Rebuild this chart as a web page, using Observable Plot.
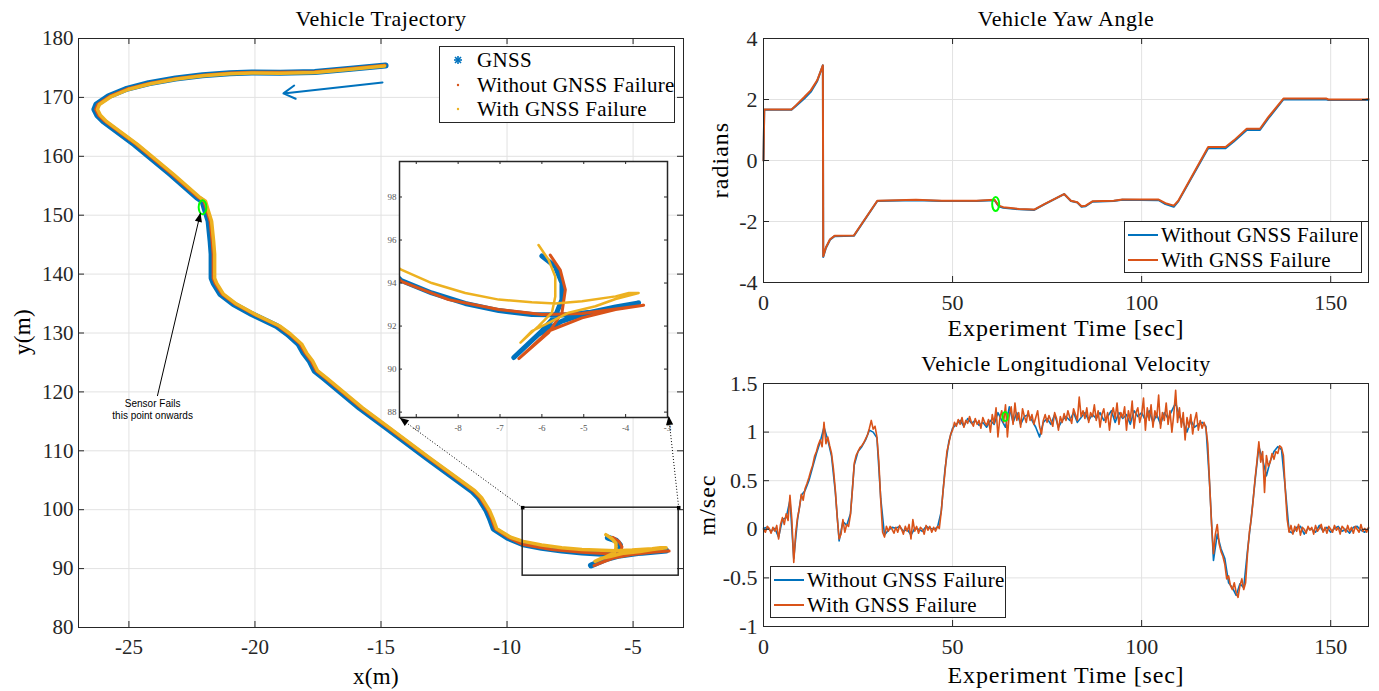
<!DOCTYPE html>
<html><head><meta charset="utf-8">
<script src="https://cdn.jsdelivr.net/npm/d3@7"></script>
<script src="https://cdn.jsdelivr.net/npm/@observablehq/plot@0.6"></script>
<style>
body{margin:0;background:#fff;}
#root{position:relative;width:1379px;height:691px;overflow:hidden;font-family:"Liberation Serif",serif;color:#000;background:#fff;}
#root svg text{font-family:"Liberation Serif",serif;}
#root svg g[aria-label="text"] text{font-family:"Liberation Sans",Arial,sans-serif;}
.abs{position:absolute;}
.t{position:absolute;white-space:nowrap;transform:translate(-50%,-50%);line-height:1;}
.lg{position:absolute;border:1px solid #262626;background:#fff;box-sizing:border-box;}
.lt{position:absolute;white-space:nowrap;line-height:1;transform:translateY(-50%);font-size:21px;letter-spacing:0.3px;}
</style></head><body><div id="root"></div><script>
// ---------------- DATA ----------------
// Trajectory (metres)
const gnssX = [-14.82,-16.2,-17.63,-19.0,-20.13,-21.0,-22.08,-23.15,-24.22,-25.13,-25.81,-26.29,-26.37,-26.25,-26.01,-24.78,-23.35,-22.3,-22.08,-22.0,-21.84,-21.76,-21.72,-21.72,-21.64,-21.37,-20.85,-20.13,-19.14,-18.71,-18.27,-18.07,-17.83,-17.63,-17.28,-15.85,-14.78,-13.19,-11.4,-11.13,-10.81,-10.69,-10.53,-9.98,-9.36,-8.63,-7.83,-7.03,-6.24,-5.44,-4.64,-3.69,-4.24,-4.88,-5.52,-6.08,-6.67,-6.0,-5.68,-5.52,-5.52,-5.68,-6.0];
const gnssY = [175.42,174.85,174.3,174.2,174.24,174.1,173.75,173.2,172.4,171.4,170.2,168.8,167.97,166.95,165.93,162.03,156.95,153.0,152.37,151.19,148.98,145.6,143.39,139.32,138.47,136.61,134.92,133.22,131.19,129.83,128.14,126.61,125.25,123.56,122.37,117.29,113.9,108.81,103.22,102.03,99.83,98.64,96.78,95.25,94.12,93.54,93.05,92.72,92.54,92.51,92.69,93.08,92.89,92.62,92.23,91.62,90.54,91.77,92.46,93.23,94.0,94.77,95.26];
const noFailX = [-14.84,-16.2,-17.63,-19.0,-20.13,-21.0,-22.06,-23.12,-24.18,-25.08,-25.76,-26.24,-26.32,-26.2,-25.95,-24.72,-23.29,-22.24,-22.02,-21.94,-21.78,-21.7,-21.66,-21.66,-21.58,-21.31,-20.79,-20.07,-19.08,-18.65,-18.21,-18.01,-17.77,-17.57,-17.22,-15.79,-14.72,-13.13,-11.34,-11.07,-10.75,-10.63,-10.47,-9.93,-9.36,-8.23,-7.03,-6.0,-5.04,-3.57,-4.24,-5.04,-5.84,-6.55,-5.84,-5.52,-5.44,-5.56,-5.8];
const noFailY = [175.47,174.9,174.35,174.25,174.28,174.14,173.78,173.22,172.42,171.42,170.2,168.8,167.97,166.95,165.93,162.03,156.95,153.0,152.37,151.19,148.98,145.6,143.39,139.32,138.47,136.61,134.92,133.22,131.19,129.83,128.14,126.61,125.25,123.56,122.37,117.29,113.9,108.81,103.22,102.03,99.83,98.64,96.78,95.25,94.08,93.23,92.77,92.54,92.58,92.97,92.77,92.38,91.77,90.49,91.69,92.62,93.69,94.6,95.3];
const failX = [-14.86,-16.2,-17.63,-19.0,-20.13,-21.0,-22.06,-23.1,-24.14,-25.03,-25.7,-26.17,-26.25,-26.13,-25.89,-24.66,-23.23,-22.18,-21.96,-21.88,-21.72,-21.64,-21.6,-21.6,-21.52,-21.25,-20.73,-20.01,-19.02,-18.59,-18.15,-17.95,-17.71,-17.51,-17.16,-15.73,-14.66,-13.07,-11.28,-11.01,-10.69,-10.57,-10.41,-9.86,-9.36,-8.63,-7.83,-7.03,-6.24,-5.68,-5.04,-4.24,-3.92,-3.69,-4.24,-4.72,-5.36,-5.84,-6.24,-6.51,-6.08,-5.76,-5.68,-5.68,-5.84,-6.08];
const failY = [175.34,174.77,174.22,174.12,174.16,174.02,173.67,173.12,172.32,171.34,170.15,168.8,167.97,166.95,165.93,162.03,156.95,153.0,152.37,151.19,148.98,145.6,143.39,139.32,138.47,136.61,134.92,133.22,131.19,129.83,128.14,126.61,125.25,123.56,122.37,117.29,113.9,108.81,103.22,102.03,99.83,98.64,96.78,95.32,94.62,94.0,93.54,93.23,93.11,93.05,93.15,93.38,93.54,93.54,93.26,92.92,92.62,92.15,91.77,91.23,92.0,92.62,93.38,94.3,95.08,95.77];
const failPointX = [-22.08], failPointY = [151.36];
const trajXTicks = [-25,-20,-15,-10,-5];
const trajYTicks = [80,90,100,110,120,130,140,150,160,170,180];
const insetXTicks = [-9,-8,-7,-6,-5,-4,-3];
const insetYTicks = [88,90,92,94,96,98];
// annotation anchors (data units of the trajectory axes)
const zoomBoxX = [-9.38,-3.19], zoomBoxY = [88.8,100.34];
const insetCornerX = [-14.26,-3.59], insetCornerY = [115.59,115.93];
const travelArrow = {x1:-14.94, y1:172.54, x2:-18.87, y2:170.68};
const noteArrow = {x1:-23.87, y1:119.3, x2:-22.16, y2:150.4};
const noteText = {x:-24.06, y:117.1, text:"Sensor Fails\nthis point onwards"};

// Yaw angle (radians)
const yawT = [0,0.2,7.4,8.5,10.8,12.5,14.2,15.7,15.8,16.5,17.6,18.8,23.9,30.1,40.3,47.2,56.3,61.1,62.2,63.4,67.6,71.6,74.4,79.5,81.3,83,84.1,85.2,87,92.6,94.9,104.5,106.3,108.5,109.7,117.6,119.9,122.2,124.4,127.8,131.3,133.5,137.5,142.6,148.9,149.4,159.1,160];
const yawWithout = [0,1.66,1.66,1.78,2.03,2.25,2.6,3.12,-3.16,-2.87,-2.6,-2.48,-2.47,-1.33,-1.3,-1.33,-1.33,-1.3,-1.5,-1.55,-1.6,-1.62,-1.43,-1.1,-1.33,-1.38,-1.52,-1.5,-1.35,-1.33,-1.29,-1.3,-1.43,-1.52,-1.34,0.4,0.41,0.4,0.62,1.0,1.0,1.38,2.0,2.0,2.0,1.98,1.98,1.99];
const yawWith = [0,1.67,1.67,1.8,2.08,2.3,2.63,3.12,-3.14,-2.85,-2.58,-2.47,-2.46,-1.32,-1.29,-1.32,-1.32,-1.29,-1.48,-1.53,-1.59,-1.61,-1.42,-1.1,-1.32,-1.37,-1.5,-1.48,-1.34,-1.32,-1.28,-1.28,-1.4,-1.48,-1.32,0.44,0.44,0.44,0.66,1.04,1.04,1.42,2.03,2.03,2.03,2.0,2.0,2.02];
const yawFailT = [61.4], yawFailV = [-1.43];
const yawXTicks = [0,50,100,150], yawYTicks = [-4,-2,0,2,4];

// Longitudinal velocity (m/s), "with failure" every 0.5 s, "without failure" every 1 s
const velWith = [
0.00,-0.03,0.03,0.01,-0.04,0.02,-0.02,0.04,-0.10,0.05,
0.12,0.05,0.16,0.09,0.35,0.10,-0.34,-0.04,0.12,0.22,
0.36,0.30,0.42,0.47,0.53,0.60,0.66,0.75,0.80,0.87,
0.92,0.85,1.10,0.88,0.95,0.86,0.78,0.62,0.40,0.12,
-0.10,-0.05,0.10,-0.03,0.05,0.03,0.15,0.40,0.68,0.76,
0.80,0.84,0.86,0.89,0.93,0.97,1.04,1.12,1.03,1.06,
0.95,0.70,0.30,-0.03,-0.08,0.03,-0.02,0.03,0.00,-0.04,
0.02,-0.03,0.04,0.00,-0.05,0.03,-0.02,0.05,-0.10,0.10,
-0.02,0.03,-0.04,0.02,0.00,-0.05,0.04,-0.01,0.03,-0.03,
0.02,-0.02,0.03,0.01,0.18,0.40,0.59,0.80,0.88,0.98,
1.02,1.10,1.06,1.13,1.08,1.15,1.05,1.12,1.09,1.16,
1.10,1.06,1.14,1.08,1.12,1.04,1.15,1.10,1.07,1.13,
1.00,1.18,1.09,1.25,0.95,1.14,1.22,1.10,1.28,0.95,
1.18,1.26,1.08,1.30,1.12,1.20,1.05,1.24,1.16,1.10,
1.22,1.12,1.18,1.08,1.15,1.22,1.06,0.98,1.12,1.18,
1.10,1.17,1.12,1.06,1.20,1.14,1.02,1.16,1.10,1.19,
1.12,1.22,1.15,1.09,1.24,1.18,1.12,1.36,1.16,1.22,
1.14,1.25,1.10,1.20,1.16,1.28,1.12,1.22,1.05,1.18,
1.24,1.10,1.20,1.02,1.18,1.25,1.14,1.30,1.08,1.20,
1.15,1.26,1.02,1.22,1.12,1.32,1.04,1.20,1.25,1.10,
1.18,1.35,1.02,1.25,1.12,1.28,1.05,1.22,1.15,1.38,
1.04,1.20,1.12,1.30,1.08,1.22,1.00,1.18,1.43,1.10,
1.25,1.05,1.20,0.92,1.15,1.05,1.18,0.98,1.12,1.20,
1.02,1.12,1.04,1.10,1.04,0.88,0.45,0.05,-0.25,-0.05,
0.05,-0.15,-0.23,-0.28,-0.36,-0.51,-0.48,-0.58,-0.62,-0.55,
-0.65,-0.70,-0.58,-0.51,-0.62,-0.55,-0.25,-0.03,0.11,0.30,
0.52,0.70,0.90,0.69,0.80,0.38,0.76,0.65,0.69,0.78,
0.72,0.80,0.78,0.86,0.84,0.76,0.40,0.10,-0.03,0.04,
-0.05,0.03,-0.02,0.05,-0.06,0.02,0.00,-0.04,0.03,-0.01,
0.02,-0.05,0.04,-0.02,0.01,0.05,-0.03,0.02,-0.04,0.03,
0.00,-0.03,0.04,-0.01,0.02,-0.05,0.03,0.01,-0.03,0.04,
-0.02,0.02,-0.04,0.03,0.00,-0.03,0.05,-0.02,0.01,-0.03,
0.02];
const velWithout = [
0.01,0.02,-0.02,0.01,-0.08,0.10,0.12,0.30,-0.30,0.10,
0.35,0.40,0.50,0.64,0.78,0.90,1.05,0.92,0.75,0.38,
-0.12,0.08,0.04,0.16,0.66,0.80,0.85,0.92,1.02,1.00,
0.94,0.32,-0.06,-0.01,0.02,0.01,0.03,-0.02,0.00,-0.06,
0.01,0.00,-0.02,0.03,0.01,0.00,0.02,0.18,0.62,0.90,
1.04,1.08,1.12,1.06,1.14,1.09,1.12,1.07,1.10,1.05,
1.12,1.08,1.20,1.12,1.05,1.26,1.10,1.20,1.08,1.16,
1.18,1.12,1.05,0.95,1.10,1.14,1.08,1.18,1.05,1.12,
1.16,1.12,1.20,1.10,1.15,1.20,1.12,1.18,1.14,1.20,
1.12,1.16,1.22,1.10,1.20,1.14,1.18,1.08,1.22,1.16,
1.20,1.12,1.22,1.10,1.18,1.08,1.20,1.14,1.22,1.30,
1.16,1.10,1.00,1.12,1.05,1.08,1.10,1.06,0.45,-0.32,
-0.05,-0.20,-0.30,-0.55,-0.60,-0.68,-0.56,-0.60,-0.22,0.12,
0.50,0.85,0.72,0.55,0.70,0.80,0.85,0.82,0.42,-0.02,
-0.04,0.02,0.03,-0.05,0.01,0.00,-0.03,0.04,-0.02,0.02,
-0.03,0.01,0.03,-0.02,0.00,-0.04,0.02,0.03,-0.01,-0.03,
0.01];
const velFailT = [63.9], velFailV = [1.16];
const velXTicks = [0,50,100,150], velYTicks = [-1,-0.5,0,0.5,1,1.5];

// ---------------- STYLE / HELPERS ----------------
const AX = "#262626", GRID = "#e2e2e2";
const BLUE = "#0072BD", ORANGE = "#D95319", YELLOW = "#EDB120", GREEN = "#00FF00";
const fmt = d => String(d);
const pts = (xs, ys) => xs.map((x, i) => ({x, y: ys[i]}));
const series = (step, vs) => vs.map((v, i) => ({x: +(i * step).toFixed(2), y: v}));

function ellipseSymbol(aspect) {
  return {draw(ctx, size) {
    const ry = Math.sqrt(size / Math.PI), rx = ry * aspect, k = 0.5523;
    ctx.moveTo(rx, 0);
    ctx.bezierCurveTo(rx, k*ry, k*rx, ry, 0, ry);
    ctx.bezierCurveTo(-k*rx, ry, -rx, k*ry, -rx, 0);
    ctx.bezierCurveTo(-rx, -k*ry, -k*rx, -ry, 0, -ry);
    ctx.bezierCurveTo(k*rx, -ry, rx, -k*ry, rx, 0);
    ctx.closePath();
  }};
}
function headSymbol(angleDeg) {
  const a = angleDeg * Math.PI / 180, c = Math.cos(a), s = Math.sin(a);
  return {draw(ctx, size) {
    const L = Math.sqrt(size / Math.PI) * 2, W = L * 0.4;
    ctx.moveTo(0, 0);
    ctx.lineTo(-L*c - W*s, -L*s + W*c);
    ctx.lineTo(-L*c + W*s, -L*s - W*c);
    ctx.closePath();
  }};
}
function boxTicks(xt, yt, xd, yd, fw, fh, len, stroke = AX) {
  const lx = len * (xd[1] - xd[0]) / fw, ly = len * (yd[1] - yd[0]) / fh;
  return [
    Plot.ruleX(xt, {x: d => d, y1: yd[0], y2: yd[0] + ly, stroke}),
    Plot.ruleX(xt, {x: d => d, y1: yd[1] - ly, y2: yd[1], stroke}),
    Plot.ruleY(yt, {y: d => d, x1: xd[0], x2: xd[0] + lx, stroke}),
    Plot.ruleY(yt, {y: d => d, x1: xd[1] - lx, x2: xd[1], stroke})
  ];
}
const root = document.getElementById("root");
function place(node, left, top) {
  const d = document.createElement("div");
  d.className = "abs"; d.style.left = left + "px"; d.style.top = top + "px";
  d.appendChild(node); root.appendChild(d); return d;
}
function label(text, x, y, size, opts = {}) {
  const s = document.createElement("div");
  s.className = "t"; s.textContent = text;
  s.style.left = x + "px"; s.style.top = y + "px"; s.style.fontSize = size + "px";
  if (opts.rotate) s.style.transform = "translate(-50%,-50%) rotate(-90deg)";
  if (opts.ls) s.style.letterSpacing = opts.ls + "px";
  root.appendChild(s);
}
const baseStyle = (size) => ({fontFamily: "'Liberation Serif', serif", fontSize: size + "px", color: AX, background: "transparent", overflow: "visible"});

// ---------------- LEFT: TRAJECTORY ----------------
const tXD = [-27, -3], tYD = [80, 180];
const gnss = pts(gnssX, gnssY), noFail = pts(noFailX, noFailY), fail = pts(failX, failY);
const trajPlot = Plot.plot({
  width: 700, height: 691, marginTop: 38, marginBottom: 64, marginLeft: 78, marginRight: 17,
  style: baseStyle(21),
  x: {domain: tXD, ticks: trajXTicks, tickSize: 0, tickPadding: 12, tickFormat: fmt, label: null},
  y: {domain: tYD, ticks: trajYTicks, tickSize: 0, tickPadding: 5, tickFormat: fmt, label: null},
  marks: [
    Plot.ruleX(trajXTicks, {x: d => d, stroke: GRID}),
    Plot.ruleY(trajYTicks, {y: d => d, stroke: GRID}),
    Plot.line(gnss, {x: "x", y: "y", stroke: BLUE, strokeWidth: 6, strokeLinejoin: "round", strokeLinecap: "round"}),
    Plot.line(noFail, {x: "x", y: "y", stroke: ORANGE, strokeWidth: 3, strokeLinejoin: "round", strokeLinecap: "round"}),
    Plot.line(fail, {x: "x", y: "y", stroke: YELLOW, strokeWidth: 3.5, strokeLinejoin: "round", strokeLinecap: "round"}),
    Plot.dot(pts(failPointX, failPointY), {x: "x", y: "y", r: 7, symbol: ellipseSymbol(0.55), stroke: GREEN, strokeWidth: 2, fill: "none"}),
    Plot.arrow([travelArrow], {x1: "x1", y1: "y1", x2: "x2", y2: "y2", stroke: BLUE, strokeWidth: 2, headLength: 10}),
    Plot.link([noteArrow], {x1: "x1", y1: "y1", x2: "x2", y2: "y2", stroke: "#000", strokeWidth: 1}),
    Plot.dot([noteArrow], {x: "x2", y: "y2", r: 4.5, symbol: headSymbol(-76.7), fill: "#000", stroke: "none"}),
    Plot.text([noteText], {x: "x", y: "y", text: "text", fontFamily: "Liberation Sans, Arial, sans-serif", fontSize: 10, fill: "#000", lineAnchor: "middle", lineHeight: 1.2}),
    Plot.rect([{x1: zoomBoxX[0], x2: zoomBoxX[1], y1: zoomBoxY[0], y2: zoomBoxY[1]}], {x1: "x1", x2: "x2", y1: "y1", y2: "y2", fill: "none", stroke: AX, strokeWidth: 1.5}),
    Plot.frame({stroke: AX, strokeWidth: 1}),
    ...boxTicks(trajXTicks, trajYTicks, tXD, tYD, 605, 589, 6)
  ]
});
place(trajPlot, 0, 0);

// inset
const iXD = [-9.4, -3], iYD = [87.75, 99.65];
const insetPlot = Plot.plot({
  width: 310, height: 291, marginTop: 11, marginBottom: 24, marginLeft: 29, marginRight: 13,
  style: {...baseStyle(9), color: "#555"},
  x: {domain: iXD, ticks: insetXTicks, tickSize: 0, tickPadding: 7, tickFormat: fmt, label: null},
  y: {domain: iYD, ticks: insetYTicks, tickSize: 0, tickPadding: 3, tickFormat: fmt, label: null},
  marks: [
    Plot.frame({fill: "white", stroke: "none"}),
    Plot.line(gnss, {x: "x", y: "y", stroke: BLUE, strokeWidth: 5, strokeLinejoin: "round", clip: true}),
    Plot.line(noFail, {x: "x", y: "y", stroke: ORANGE, strokeWidth: 3, strokeLinejoin: "round", clip: true}),
    Plot.line(fail, {x: "x", y: "y", stroke: YELLOW, strokeWidth: 2.5, strokeLinejoin: "round", clip: true}),
    Plot.frame({stroke: AX, strokeWidth: 1.5}),
    ...boxTicks(insetXTicks, insetYTicks, iXD, iYD, 268, 256, 3)
  ]
});
place(insetPlot, 370, 150);

// overlay with dotted connector arrows
const connectors = [
  {x1: zoomBoxX[0], y1: zoomBoxY[1], x2: insetCornerX[0], y2: insetCornerY[0]},
  {x1: zoomBoxX[1], y1: zoomBoxY[1], x2: insetCornerX[1], y2: insetCornerY[1]}
];
const overlay = Plot.plot({
  width: 700, height: 691, marginTop: 38, marginBottom: 64, marginLeft: 78, marginRight: 17,
  style: baseStyle(21),
  x: {domain: tXD, axis: null}, y: {domain: tYD, axis: null},
  marks: [
    Plot.link(connectors, {x1: "x1", y1: "y1", x2: "x2", y2: "y2", stroke: "#000", strokeWidth: 1, strokeDasharray: "1,2"}),
    Plot.dot([connectors[0]], {x: "x2", y: "y2", r: 4.5, symbol: headSymbol(-143.8), fill: "#000", stroke: "none"}),
    Plot.dot([connectors[1]], {x: "x2", y: "y2", r: 4.5, symbol: headSymbol(-96.2), fill: "#000", stroke: "none"}),
    Plot.dot(connectors, {x: "x1", y: "y1", r: 2, symbol: "square", fill: "#000"})
  ]
});
place(overlay, 0, 0);

// ---------------- RIGHT TOP: YAW ----------------
const rXD = [0, 160];
const yawPlot = Plot.plot({
  width: 679, height: 345, marginTop: 38, marginBottom: 63, marginLeft: 63, marginRight: 11,
  style: baseStyle(22),
  x: {domain: rXD, ticks: yawXTicks, tickSize: 0, tickPadding: 12, tickFormat: fmt, label: null},
  y: {domain: [-4, 4], ticks: yawYTicks, tickSize: 0, tickPadding: 6, tickFormat: fmt, label: null},
  marks: [
    Plot.ruleX(yawXTicks, {x: d => d, stroke: GRID}),
    Plot.ruleY(yawYTicks, {y: d => d, stroke: GRID}),
    Plot.line(pts(yawT, yawWithout), {x: "x", y: "y", stroke: BLUE, strokeWidth: 2}),
    Plot.line(pts(yawT, yawWith), {x: "x", y: "y", stroke: ORANGE, strokeWidth: 2}),
    Plot.dot(pts(yawFailT, yawFailV), {x: "x", y: "y", r: 7, symbol: ellipseSymbol(0.5), stroke: GREEN, strokeWidth: 2, fill: "none"}),
    Plot.frame({stroke: AX, strokeWidth: 1}),
    ...boxTicks(yawXTicks, yawYTicks, rXD, [-4, 4], 605, 244, 6)
  ]
});
place(yawPlot, 700, 0);

// ---------------- RIGHT BOTTOM: VELOCITY ----------------
const velPlot = Plot.plot({
  width: 679, height: 346, marginTop: 38, marginBottom: 65, marginLeft: 63, marginRight: 11,
  style: baseStyle(22),
  x: {domain: rXD, ticks: velXTicks, tickSize: 0, tickPadding: 12, tickFormat: fmt, label: null},
  y: {domain: [-1, 1.5], ticks: velYTicks, tickSize: 0, tickPadding: 6, tickFormat: fmt, label: null},
  marks: [
    Plot.ruleX(velXTicks, {x: d => d, stroke: GRID}),
    Plot.ruleY(velYTicks, {y: d => d, stroke: GRID}),
    Plot.line(series(1, velWithout), {x: "x", y: "y", stroke: BLUE, strokeWidth: 1.6}),
    Plot.line(series(0.5, velWith), {x: "x", y: "y", stroke: ORANGE, strokeWidth: 1.6}),
    Plot.dot(pts(velFailT, velFailV), {x: "x", y: "y", r: 4.5, symbol: ellipseSymbol(0.6), stroke: GREEN, strokeWidth: 2, fill: "none"}),
    Plot.frame({stroke: AX, strokeWidth: 1}),
    ...boxTicks(velXTicks, velYTicks, rXD, [-1, 1.5], 605, 243, 6)
  ]
});
place(velPlot, 700, 345);

// ---------------- TEXT: titles & axis labels ----------------
label("Vehicle Trajectory", 381, 19, 22, {ls: 0.5});
label("x(m)", 376, 676, 23, {ls: 0.3});
label("y(m)", 22, 332, 23, {rotate: true, ls: 0.3});
label("Vehicle Yaw Angle", 1066, 19, 22, {ls: 0.5});
label("Experiment Time [sec]", 1066, 328, 24, {ls: 0.8});
label("radians", 720, 160, 24, {rotate: true, ls: 1});
label("Vehicle Longitudional Velocity", 1066, 364, 22, {ls: 0.5});
label("Experiment Time [sec]", 1066, 675, 24, {ls: 0.8});
label("m/sec", 707, 505, 24, {rotate: true, ls: 1});

// ---------------- LEGENDS ----------------
function legendBox(left, top, width, height, rows) {
  const box = document.createElement("div");
  box.className = "lg";
  Object.assign(box.style, {left: left + "px", top: top + "px", width: width + "px", height: height + "px"});
  for (const r of rows) {
    const m = document.createElementNS("http://www.w3.org/2000/svg", "svg");
    m.setAttribute("width", 34); m.setAttribute("height", 16);
    m.style.position = "absolute"; m.style.left = (r.mx - left - 17) + "px"; m.style.top = (r.y - top - 8) + "px";
    m.innerHTML = r.marker;
    box.appendChild(m);
    const t = document.createElement("div");
    t.className = "lt"; t.textContent = r.text;
    t.style.left = (r.tx - left) + "px"; t.style.top = (r.y - top) + "px";
    box.appendChild(t);
  }
  root.appendChild(box);
}
const star = `<g stroke="${BLUE}" stroke-width="1.6"><line x1="17" y1="4" x2="17" y2="12"/><line x1="13" y1="8" x2="21" y2="8"/><line x1="14" y1="5" x2="20" y2="11"/><line x1="14" y1="11" x2="20" y2="5"/></g>`;
legendBox(439, 46, 236, 77, [
  {y: 59, mx: 457, tx: 476, text: "GNSS", marker: star},
  {y: 84, mx: 457, tx: 476, text: "Without GNSS Failure", marker: `<circle cx="17" cy="8" r="1.2" fill="${ORANGE}"/>`},
  {y: 108, mx: 457, tx: 476, text: "With GNSS Failure", marker: `<circle cx="17" cy="8" r="1.2" fill="${YELLOW}"/>`}
]);
const seg = c => `<line x1="2" y1="8" x2="32" y2="8" stroke="${c}" stroke-width="2"/>`;
legendBox(1124, 221, 238, 52, [
  {y: 234, mx: 1142, tx: 1160, text: "Without GNSS Failure", marker: seg(BLUE)},
  {y: 259, mx: 1142, tx: 1160, text: "With GNSS Failure", marker: seg(ORANGE)}
]);
legendBox(770, 566, 236, 52, [
  {y: 579, mx: 788, tx: 806, text: "Without GNSS Failure", marker: seg(BLUE)},
  {y: 604, mx: 788, tx: 806, text: "With GNSS Failure", marker: seg(ORANGE)}
]);
</script></body></html>
